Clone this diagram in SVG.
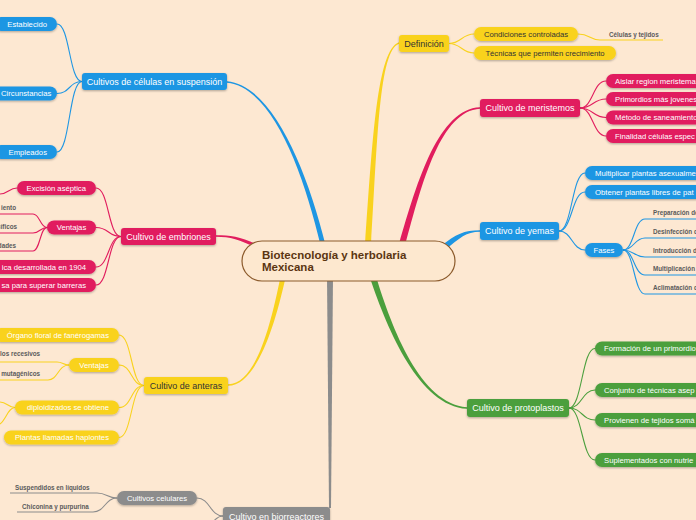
<svg xmlns="http://www.w3.org/2000/svg" width="696" height="520" viewBox="0 0 696 520">
<defs>
<filter id="sh" x="-10%" y="-30%" width="120%" height="170%">
<feDropShadow dx="0" dy="1" stdDeviation="0.8" flood-color="#000" flood-opacity="0.3"/>
</filter>
<style>
text{font-family:"Liberation Sans",Arial,sans-serif}
.m{font-size:9px}
.s{font-size:7.7px}
.l{font-size:6.3px;font-weight:bold;fill:#5a5a5a}
.w{fill:#fff}
.d{fill:#333}
.c{stroke-width:1.1;fill:none}
.blue{fill:#1e96e3}
.pink{fill:#e11d5e}
.yel{fill:#f9d21e}
.grn{fill:#4b9f3d}
.gry{fill:#8c8c8c}
.sb{stroke:#1e96e3}.sp{stroke:#e11d5e}.sy{stroke:#f9d21e}.sg{stroke:#4b9f3d}.sr{stroke:#8c8c8c}
</style>
</defs>
<rect width="696" height="520" fill="#fde8d2"/>
<g id="connectors">
<path class="blue" d="M325.5,245 C307,169.5 272.3,85 227,81.25 L227,82.75 C271.7,87 303,170.5 320.5,245 Z"/>
<path class="yel" d="M371,245 C377.5,140 379,50.5 399,43.7 L399,42.3 C377,49.5 372.5,140 365,245 Z"/>
<path class="pink" d="M405,245.8 C422.5,180.5 441,111 480,108.75 L480,107.25 C439,109 417.5,179.5 399,244.2 Z"/>
<path class="blue" d="M445,250 C460,238 466,231.8 480,231.8 L480,230.2 C464,230.2 456,234 441,246 Z"/>
<path class="grn" d="M370,277.9 C388,331 419.5,406 467,408.75 L467,407.25 C420.5,404 392,329 375.9,276.1 Z"/>
<path class="gry" d="M327,277 L333,277 L331,508 L329,508 Z"/>
<path class="yel" d="M280.5,276.5 C270,329.6 254.8,384.4 228,384.25 L228,385.75 C255.2,385.6 274,330.4 285.5,277.5 Z"/>
<path class="pink" d="M256,244 C240,236.5 230,235.3 216,235.3 L216,236.7 C230,236.7 240,239.5 256,248 Z"/>
<g class="c sb">
<path d="M82,81.5 C69,81.5 70,24 57,24"/>
<path d="M82,81.5 C69,81.5 70,93.5 57,93.5"/>
<path d="M82,81.5 C69,81.5 70,152 57,152"/>
<path d="M559,231 C572,231 572,173 585,173"/>
<path d="M559,231 C572,231 572,192 585,192"/>
<path d="M559,231 C572,231 572,250 585,250"/>
<path d="M623,250 C634,250 634,219 645,219 L700,219"/>
<path d="M623,250 C634,250 634,238 645,238 L700,238"/>
<path d="M623,250 C634,250 634,257 645,257 L700,257"/>
<path d="M623,250 C634,250 634,275 645,275 L700,275"/>
<path d="M623,250 C634,250 634,294 645,294 L700,294"/>
</g>
<g class="c sp">
<path d="M121,236.5 C108,236.5 109,188 96,188"/>
<path d="M121,236.5 C108,236.5 109,227.5 96,227.5"/>
<path d="M121,236.5 C108,236.5 109,267 96,267"/>
<path d="M121,236.5 C108,236.5 109,285 96,285"/>
<path d="M17,188 C9,188 8,194 0,194"/>
<path d="M47,227.5 C40,227.5 40,214 33,214 L0,214"/>
<path d="M47,227.5 C40,227.5 40,233 33,233 L0,233"/>
<path d="M47,227.5 C40,227.5 40,251 33,251 L0,251"/>
<path d="M580,108 C593,108 593,81 606,81"/>
<path d="M580,108 C593,108 593,99 606,99"/>
<path d="M580,108 C593,108 593,117.5 606,117.5"/>
<path d="M580,108 C593,108 593,136 606,136"/>
</g>
<g class="c sy">
<path d="M144,385.5 C131,385.5 132,335 119,335"/>
<path d="M144,385.5 C131,385.5 132,365 119,365"/>
<path d="M144,385.5 C131,385.5 132,407.5 119,407.5"/>
<path d="M144,385.5 C131,385.5 132,437.5 119,437.5"/>
<path d="M69,365 C63,365 63,362 57,362 L0,362"/>
<path d="M69,365 C58,365 58,380 48,380 L0,380"/>
<path d="M15,407.5 C8,407.5 7,402 0,402"/>
<path d="M15,407.5 C8,407.5 6,420 0,424"/>
<path d="M449,43.5 C461,43.5 462,34 474,34"/>
<path d="M449,43.5 C461,43.5 462,53 474,53"/>
<path d="M578,34 C590,34 590,40 600,40 L663,40"/>
</g>
<g class="c sg">
<path d="M569,408 C582,408 582,348.5 595,348.5"/>
<path d="M569,408 C582,408 582,390 595,390"/>
<path d="M569,408 C582,408 582,420 595,420"/>
<path d="M569,408 C582,408 582,460 595,460"/>
</g>
<g class="c sr">
<path d="M223,516 C210,516 210,498 197,498"/>
<path d="M223,516 C217,516 215,520 212,523"/>
<path d="M117,498 C107,498 107,493 97,493 L10,493"/>
<path d="M117,498 C105,498 105,512 93,512 L17,512"/>
</g>
</g>

<g id="center">
<rect x="242" y="241" width="213" height="40" rx="20" fill="#fde8cf" stroke="#8b5a2b" stroke-width="1.2"/>
<text x="262" y="259" font-size="11.5" font-weight="bold" fill="#5b3511">Biotecnología y herbolaria</text>
<text x="262" y="271" font-size="11.5" font-weight="bold" fill="#5b3511">Mexicana</text>
</g>

<g id="suspension">
<rect class="blue" filter="url(#sh)" x="82" y="73" width="145" height="17" rx="3"/>
<text class="m w" x="154.5" y="84.5" text-anchor="middle">Cultivos de células en suspensión</text>
</g>
<g id="establecido">
<rect class="blue" filter="url(#sh)" x="-6" y="17" width="63" height="14" rx="7"/>
<text class="s w" x="47" y="26.7" text-anchor="end">Establecido</text>
</g>
<g id="circunstancias">
<rect class="blue" filter="url(#sh)" x="-15" y="86.5" width="72" height="14" rx="7"/>
<text class="s w" x="1" y="96.2">Circunstancias</text>
</g>
<g id="empleados">
<rect class="blue" filter="url(#sh)" x="-6" y="145" width="63" height="14" rx="7"/>
<text class="s w" x="47" y="154.7" text-anchor="end">Empleados</text>
</g>

<g id="embriones">
<rect class="pink" filter="url(#sh)" x="121" y="228" width="95" height="17" rx="3"/>
<text class="m w" x="168.5" y="239.5" text-anchor="middle">Cultivo de embriones</text>
</g>
<g id="excision">
<rect class="pink" filter="url(#sh)" x="17" y="181" width="79" height="14" rx="7"/>
<text class="s w" x="86" y="190.7" text-anchor="end">Excisión aséptica</text>
</g>
<g id="ventajas-emb">
<rect class="pink" filter="url(#sh)" x="47" y="220.5" width="49" height="14" rx="7"/>
<text class="s w" x="71.5" y="230.2" text-anchor="middle">Ventajas</text>
</g>
<g id="leaf-emb-1"><text class="l" x="16" y="210" text-anchor="end">iento</text></g>
<g id="leaf-emb-2"><text class="l" x="17" y="229" text-anchor="end">cíficos</text></g>
<g id="leaf-emb-3"><text class="l" x="16" y="248" text-anchor="end">dades</text></g>
<g id="tecnica-1904">
<rect class="pink" filter="url(#sh)" x="-10" y="260" width="106" height="14" rx="7"/>
<text class="s w" x="86" y="269.7" text-anchor="end">ica desarrollada en 1904</text>
</g>
<g id="barreras">
<rect class="pink" filter="url(#sh)" x="-10" y="278" width="106" height="14" rx="7"/>
<text class="s w" x="86" y="287.7" text-anchor="end">sa para superar barreras</text>
</g>

<g id="anteras">
<rect class="yel" filter="url(#sh)" x="144" y="377" width="84" height="17" rx="3"/>
<text class="m d" x="186" y="388.5" text-anchor="middle">Cultivo de anteras</text>
</g>
<g id="organo">
<rect class="yel" filter="url(#sh)" x="-6" y="328" width="125" height="14" rx="7"/>
<text class="s w" x="109" y="337.7" text-anchor="end">Órgano floral de fanérogamas</text>
</g>
<g id="ventajas-ant">
<rect class="yel" filter="url(#sh)" x="69" y="358" width="50" height="14" rx="7"/>
<text class="s w" x="94" y="367.7" text-anchor="middle">Ventajas</text>
</g>
<g id="leaf-ant-1"><text class="l" x="40" y="356" text-anchor="end">los recesivos</text></g>
<g id="leaf-ant-2"><text class="l" x="40" y="376" text-anchor="end">mutagénicos</text></g>
<g id="diploidizados">
<rect class="yel" filter="url(#sh)" x="15" y="400.5" width="104" height="14" rx="7"/>
<text class="s w" x="109" y="410.2" text-anchor="end">diploidizados se obtiene</text>
</g>
<g id="haplontes">
<rect class="yel" filter="url(#sh)" x="4" y="430.5" width="115" height="14" rx="7"/>
<text class="s w" x="109" y="440.2" text-anchor="end">Plantas llamadas haplontes</text>
</g>

<g id="biorreactores">
<rect class="gry" filter="url(#sh)" x="223" y="507" width="107" height="20" rx="3"/>
<text class="m w" x="229" y="519.5">Cultivo en biorreactores</text>
</g>
<g id="celulares">
<rect class="gry" filter="url(#sh)" x="117" y="491" width="80" height="14" rx="7"/>
<text class="s w" x="157" y="500.7" text-anchor="middle">Cultivos celulares</text>
</g>
<g id="leaf-bio-1"><text class="l" x="15" y="490">Suspendidos en líquidos</text></g>
<g id="leaf-bio-2"><text class="l" x="22" y="508.5">Chiconina y purpurina</text></g>

<g id="definicion">
<rect class="yel" filter="url(#sh)" x="399" y="35" width="50" height="17" rx="3"/>
<text class="m d" x="424" y="46.5" text-anchor="middle">Definición</text>
</g>
<g id="condiciones">
<rect class="yel" filter="url(#sh)" x="474" y="27" width="104" height="14" rx="7"/>
<text class="s d" x="526" y="36.7" text-anchor="middle">Condiciones controladas</text>
</g>
<g id="leaf-celulas"><text class="l" x="609" y="36.5">Células y tejidos</text></g>
<g id="tecnicas">
<rect class="yel" filter="url(#sh)" x="474" y="46" width="142" height="14" rx="7"/>
<text class="s d" x="545" y="55.7" text-anchor="middle">Técnicas que permiten crecimiento</text>
</g>

<g id="meristemos">
<rect class="pink" filter="url(#sh)" x="480" y="99" width="100" height="18" rx="3"/>
<text class="m w" x="530" y="111" text-anchor="middle">Cultivo de meristemos</text>
</g>
<g id="mer-1">
<rect class="pink" filter="url(#sh)" x="606" y="74" width="110" height="14" rx="7"/>
<text class="s w" x="615" y="83.7">Aislar region meristema</text>
</g>
<g id="mer-2">
<rect class="pink" filter="url(#sh)" x="606" y="92" width="110" height="14" rx="7"/>
<text class="s w" x="615" y="101.7">Primordios más jovenes</text>
</g>
<g id="mer-3">
<rect class="pink" filter="url(#sh)" x="606" y="110.5" width="110" height="14" rx="7"/>
<text class="s w" x="615" y="120.2">Método de saneamiento</text>
</g>
<g id="mer-4">
<rect class="pink" filter="url(#sh)" x="606" y="129" width="110" height="14" rx="7"/>
<text class="s w" x="615" y="138.7">Finalidad células espec</text>
</g>

<g id="yemas">
<rect class="blue" filter="url(#sh)" x="480" y="222" width="79" height="18" rx="3"/>
<text class="m w" x="519.5" y="234" text-anchor="middle">Cultivo de yemas</text>
</g>
<g id="yem-1">
<rect class="blue" filter="url(#sh)" x="585" y="166" width="125" height="14" rx="7"/>
<text class="s w" x="595" y="175.7">Multiplicar plantas asexualme</text>
</g>
<g id="yem-2">
<rect class="blue" filter="url(#sh)" x="585" y="185" width="125" height="14" rx="7"/>
<text class="s w" x="595" y="194.7">Obtener plantas libres de pat</text>
</g>
<g id="fases">
<rect class="blue" filter="url(#sh)" x="585" y="243" width="38" height="14" rx="7"/>
<text class="s w" x="604" y="252.7" text-anchor="middle">Fases</text>
</g>
<g id="fase-1"><text class="l" x="653" y="215">Preparación de</text></g>
<g id="fase-2"><text class="l" x="653" y="233.5">Desinfección de</text></g>
<g id="fase-3"><text class="l" x="653" y="252.5">Introducción d</text></g>
<g id="fase-4"><text class="l" x="653" y="270.5">Multiplicación</text></g>
<g id="fase-5"><text class="l" x="653" y="289.5">Aclimatación d</text></g>

<g id="protoplastos">
<rect class="grn" filter="url(#sh)" x="467" y="399" width="102" height="18" rx="3"/>
<text class="m w" x="518" y="411" text-anchor="middle">Cultivo de protoplastos</text>
</g>
<g id="pro-1">
<rect class="grn" filter="url(#sh)" x="595" y="341.5" width="115" height="14" rx="7"/>
<text class="s w" x="604" y="351.2">Formación de un primordio</text>
</g>
<g id="pro-2">
<rect class="grn" filter="url(#sh)" x="595" y="383" width="115" height="14" rx="7"/>
<text class="s w" x="604" y="392.7">Conjunto de técnicas asep</text>
</g>
<g id="pro-3">
<rect class="grn" filter="url(#sh)" x="595" y="413" width="115" height="14" rx="7"/>
<text class="s w" x="604" y="422.7">Provienen de tejidos somá</text>
</g>
<g id="pro-4">
<rect class="grn" filter="url(#sh)" x="595" y="453" width="115" height="14" rx="7"/>
<text class="s w" x="604" y="462.7">Suplementados con nutrie</text>
</g>
</svg>
